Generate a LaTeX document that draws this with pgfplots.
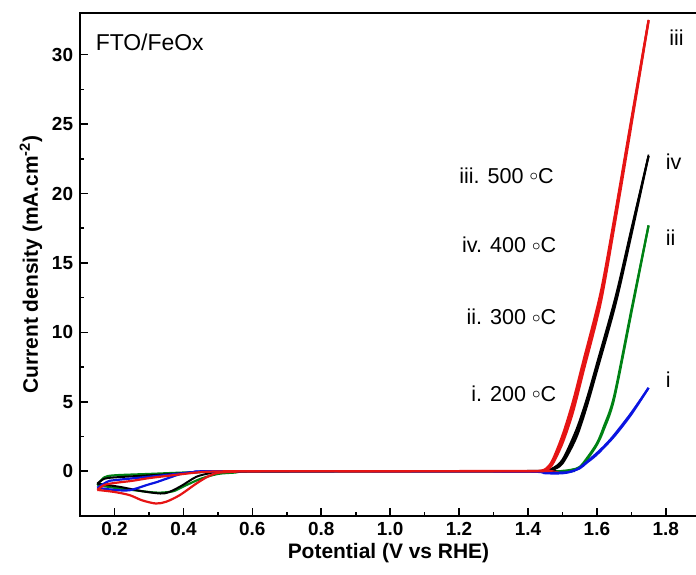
\documentclass[border=0pt]{standalone}
\usepackage{pgfplots}
\pgfplotsset{compat=1.18}
\usepackage{fontspec}
\setmainfont{Liberation Sans}
\definecolor{cred}{RGB}{230,20,20}
\definecolor{cgreen}{RGB}{0,130,20}
\definecolor{cblue}{RGB}{10,20,225}
\newcommand{\degc}{\raisebox{0.2ex}{$\scriptstyle\circ$}C}
\begin{document}
\begin{tikzpicture}
\begin{axis}[
  at={(0,0)}, anchor=south west,
  width=308bp, height=251bp, scale only axis,
  xmin=0.1, xmax=1.89, ymin=-3.2, ymax=33,
  xtick={0.2,0.4,...,1.8},
  ytick={0,5,...,30},
  minor x tick num=1, minor y tick num=1,
  xtick pos=bottom, ytick pos=left,
  major tick length=4bp, minor tick length=2bp,
  axis line style={line width=1bp},
  every tick/.style={line width=0.8bp, black},
  /pgf/number format/assume math mode=true,
  /pgf/number format/fixed, /pgf/number format/fixed zerofill,
  xticklabel style={/pgf/number format/precision=1, font=\fontsize{9.5}{11}\selectfont\bfseries},
  yticklabel style={/pgf/number format/precision=0, font=\fontsize{9.5}{11}\selectfont\bfseries},
  xlabel={Potential (V vs RHE)},
  ylabel={Current density (mA.cm\textsuperscript{-2})},
  label style={font=\fontsize{10.5}{12}\selectfont\bfseries},
  xlabel style={yshift=3bp},
  ylabel style={yshift=-2bp},
  clip=false,
]
% green (ii, 300 C)
\addplot[cgreen, line width=1.1bp, smooth] coordinates {
(0.15,-1.0)(0.17,-0.45)(0.2,-0.3)(0.3,-0.2)(0.4,-0.1)(0.5,-0.02)(0.6,0)(1.0,0)(1.45,0)(1.5,0.02)(1.53,0.12)(1.55,0.3)(1.57,0.9)(1.6,2.0)(1.62,3.2)(1.65,5.4)(1.7,11.6)(1.75,17.7)};
\addplot[cgreen, line width=1.1bp, smooth] coordinates {
(1.75,17.7)(1.7,11.4)(1.65,5.2)(1.62,3.0)(1.6,1.9)(1.57,0.8)(1.55,0.25)(1.52,0.05)(1.5,0)(1.0,0)(0.6,-0.03)(0.55,-0.1)(0.5,-0.2)(0.45,-0.55)(0.4,-1.1)(0.37,-1.45)(0.33,-1.55)(0.3,-1.5)(0.25,-1.35)(0.2,-1.2)(0.15,-1.0)};
% black (iv, 400 C)
\addplot[black, line width=1.0bp, smooth] coordinates {
(0.15,-0.9)(0.17,-0.55)(0.2,-0.45)(0.3,-0.3)(0.4,-0.15)(0.47,-0.03)(0.55,0)(1.0,0)(1.44,0.02)(1.47,0.15)(1.5,0.7)(1.54,2.7)(1.57,4.9)(1.6,7.5)(1.654,12.3)(1.7,17.3)(1.75,22.7)};
\addplot[black, line width=1.0bp, smooth] coordinates {
(1.75,22.7)(1.7,17.0)(1.654,12.0)(1.6,7.2)(1.57,4.6)(1.54,2.4)(1.5,0.55)(1.47,0.1)(1.44,0)(1.0,0)(0.6,-0.02)(0.5,-0.05)(0.476,-0.15)(0.437,-0.41)(0.389,-1.13)(0.345,-1.6)(0.292,-1.49)(0.25,-1.3)(0.215,-1.13)(0.15,-0.9)};
\addplot[black, line width=0.8bp, smooth] coordinates {
(1.44,0.02)(1.47,0.2)(1.5,0.85)(1.54,3.0)(1.57,5.2)(1.6,7.8)(1.654,12.6)(1.7,17.5)(1.75,22.8)};
% blue (i, 200 C)
\addplot[cblue, line width=1.1bp, smooth] coordinates {
(0.15,-1.2)(0.18,-0.75)(0.2,-0.65)(0.3,-0.4)(0.4,-0.15)(0.45,-0.03)(0.5,0)(1.0,0)(1.4,-0.03)(1.45,-0.15)(1.5,-0.15)(1.53,0)(1.55,0.25)(1.57,0.65)(1.6,1.3)(1.625,1.9)(1.65,2.6)(1.7,4.2)(1.75,6.0)};
\addplot[cblue, line width=1.1bp, smooth] coordinates {
(1.75,6.0)(1.7,4.1)(1.65,2.5)(1.6,1.2)(1.57,0.6)(1.55,0.2)(1.52,-0.05)(1.5,-0.1)(1.45,-0.1)(1.4,-0.03)(1.0,0)(0.5,-0.02)(0.45,-0.05)(0.4,-0.15)(0.35,-0.55)(0.321,-0.8)(0.3,-0.95)(0.244,-1.37)(0.2,-1.35)(0.15,-1.2)};
% red (iii, 500 C)
\addplot[cred, line width=1.1bp, smooth] coordinates {
(0.15,-1.35)(0.17,-1.0)(0.2,-0.85)(0.25,-0.7)(0.3,-0.5)(0.35,-0.35)(0.4,-0.2)(0.45,-0.07)(0.5,-0.02)(0.6,0)(1.0,0)(1.43,0.02)(1.45,0.1)(1.47,0.6)(1.5,2.3)(1.53,4.6)(1.56,7.5)(1.61,12.4)(1.65,17.9)(1.7,25.2)(1.75,32.5)};
\addplot[cred, line width=1.1bp, smooth] coordinates {
(1.75,32.4)(1.7,24.9)(1.65,17.5)(1.61,12.0)(1.56,7.1)(1.53,4.2)(1.5,2.0)(1.47,0.45)(1.45,0.05)(1.43,0)(1.0,0)(0.6,0)(0.55,-0.04)(0.5,-0.12)(0.47,-0.4)(0.437,-0.9)(0.389,-1.73)(0.35,-2.2)(0.32,-2.33)(0.28,-2.1)(0.244,-1.73)(0.2,-1.5)(0.15,-1.35)};
\addplot[cred, line width=1.0bp, smooth] coordinates {
(1.43,0.02)(1.45,0.15)(1.47,0.75)(1.5,2.6)(1.53,5.0)(1.56,7.9)(1.61,12.8)(1.65,18.2)(1.7,25.4)(1.75,32.5)};
% annotations
\node[anchor=west, font=\fontsize{11.5}{13}\selectfont] at (axis cs:0.125,30.9) {FTO/FeOx};
\node[anchor=east, font=\fontsize{10.8}{12}\selectfont] at (axis cs:1.495,21.3) {iii. 500 \degc};
\node[anchor=east, font=\fontsize{10.8}{12}\selectfont] at (axis cs:1.502,16.3) {iv. 400 \degc};
\node[anchor=east, font=\fontsize{10.8}{12}\selectfont] at (axis cs:1.502,11.1) {ii. 300 \degc};
\node[anchor=east, font=\fontsize{10.8}{12}\selectfont] at (axis cs:1.502,5.6) {i. 200 \degc};
\node[anchor=west, font=\fontsize{10.8}{12}\selectfont] at (axis cs:1.79,31.2) {iii};
\node[anchor=west, font=\fontsize{10.8}{12}\selectfont] at (axis cs:1.78,22.3) {iv};
\node[anchor=west, font=\fontsize{10.8}{12}\selectfont] at (axis cs:1.78,16.8) {ii};
\node[anchor=west, font=\fontsize{10.8}{12}\selectfont] at (axis cs:1.78,6.6) {i};
\end{axis}
\pgfresetboundingbox
\path[use as bounding box] (-40bp,-29.5bp) rectangle (307.6bp,257.5bp);
\end{tikzpicture}
\end{document}
